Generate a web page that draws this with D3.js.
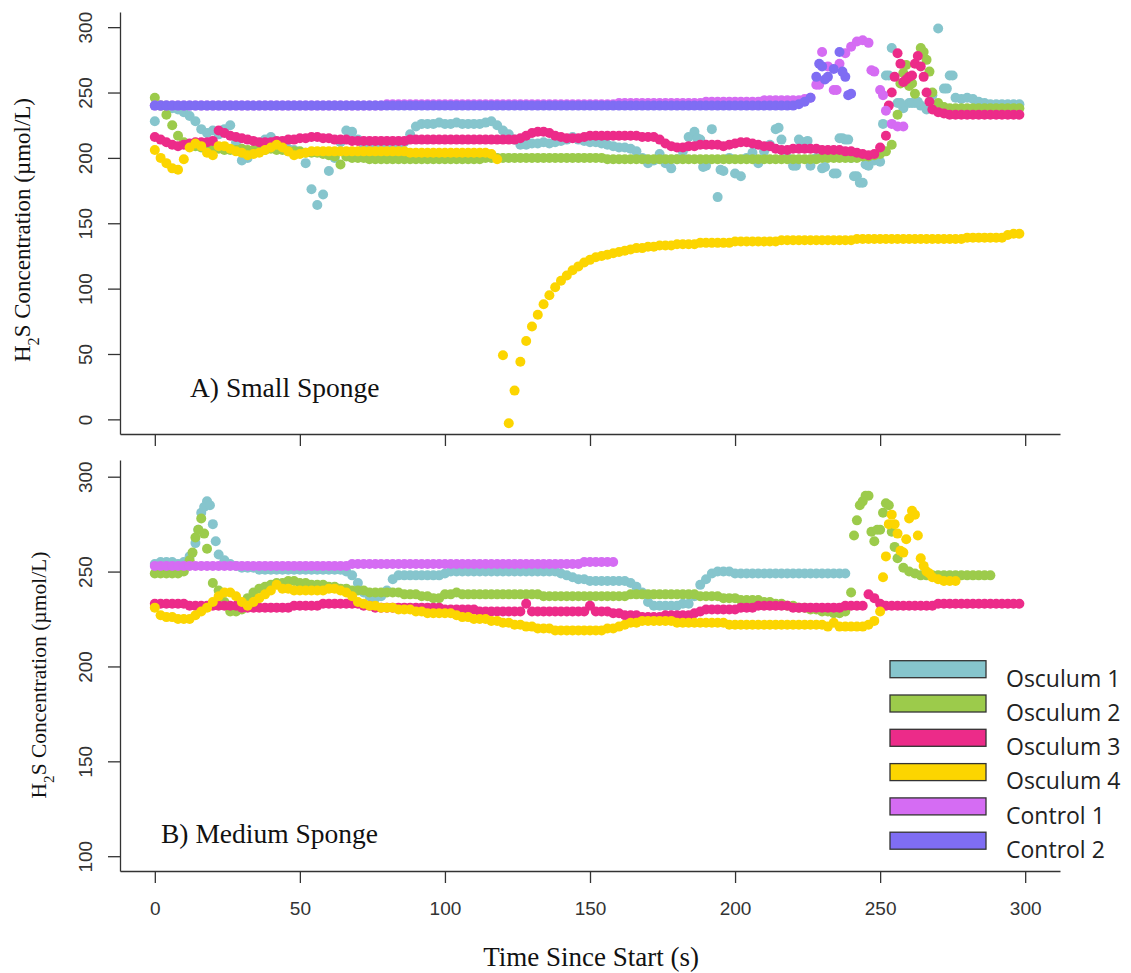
<!DOCTYPE html>
<html>
<head>
<meta charset="utf-8">
<script src="https://cdn.jsdelivr.net/npm/d3@7"></script>
<style>
  body { margin: 0; background: #fff; }
  svg { display: block; }
  .tick text { font-family: "Liberation Sans", Arial, sans-serif; font-size: 19px; fill: #333; }
  .serif { font-family: "Liberation Serif", "Times New Roman", serif; fill: #111; }
  .legend text { font-family: "Open Sans", sans-serif; font-size: 23px; fill: #222; }
</style>
</head>
<body>
<svg id="chart" width="1131" height="973"></svg>
<script>
// one reading every 2 s, starting at t = 0
const timeStep = 2

const seriesNames = ["Osculum 1", "Osculum 2", "Osculum 3", "Osculum 4", "Control 1", "Control 2"]
const seriesColors = ["#86C5CD", "#9CCB4B", "#EC2B89", "#FCD500", "#D56CF3", "#7F6DF3"]

const timeTicks = [0, 50, 100, 150, 200, 250, 300]
const smallTicks = [0, 50, 100, 150, 200, 250, 300]
const mediumTicks = [100, 150, 200, 250, 300]

// ---- A) Small Sponge ----
const smallOsc1 = [
  228, 240, 240, 238, 237, 235, 232, 228, 222, 219,
  221, 218, 222, 225, 212, 198, 200, 204, 210, 214,
  216, 212, 208, 207, 206, 204, 196, 176, 164, 172,
  190, 200, 212, 221, 220, 214, 210, 210, 209, 208,
  208, 209, 210, 212, 218, 224, 226, 226, 226, 227,
  226, 226, 227, 226, 226, 226, 226, 227, 228, 225,
  221, 218, 214, 210, 210, 211, 211, 212, 211, 212,
  213, 214, 216, 214, 213, 212, 212, 211, 210, 209,
  208, 208, 207, 205, 200, 196, 198, 203, 196, 192,
  199, 205, 216, 220, 214, 194, 222, 170, 190, 200,
  188, 186, 200, 204, 196, 205, 210, 222, 214, 200,
  194, 214, 212, 194, 200, 192, 202, 188, 215, 214,
  200, 186, 181, 194, 198, 197, 263, 284, 242, 238,
  242, 242, 240, 237, 248, 299, 253, 263, 246, 245,
  246, 245, 243, 242, 241, 241, 241, 241, 241, 241
]
const smallOsc2 = [
  246, 240, 233, 225, 217, 212, 210, 209, 208, 208,
  207, 207, 206, 206, 206, 207, 206, 206, 206, 206,
  207, 206, 206, 205, 205, 205, 204, 204, 204, 203,
  202, 201, 195, 201, 200, 200, 200, 199, 199, 199,
  199, 199, 199, 199, 199, 199, 199, 199, 199, 199,
  199, 199, 199, 199, 199, 199, 199, 200, 200, 200,
  200, 200, 200, 200, 200, 200, 200, 200, 200, 200,
  200, 200, 200, 200, 200, 200, 200, 200, 199, 199,
  199, 199, 199, 199, 199, 199, 199, 199, 199, 199,
  199, 199, 199, 199, 199, 199, 199, 199, 199, 199,
  199, 199, 199, 199, 199, 199, 199, 199, 199, 199,
  199, 199, 199, 199, 199, 200, 200, 200, 200, 200,
  200, 200, 201, 201, 202, 203, 205, 210, 233, 265,
  255, 249, 284, 275, 250, 242, 239, 238, 238, 238,
  238, 238, 238, 238, 238, 238, 238, 238, 238, 238
]
const smallOsc3 = [
  216, 214, 212, 210, 209, 210, 211, 212, 212, 212,
  213, 221, 219, 217, 216, 215, 214, 213, 212, 212,
  212, 213, 213, 214, 214, 215, 215, 216, 216, 215,
  215, 214, 214, 214, 213, 213, 213, 213, 213, 213,
  213, 213, 213, 213, 214, 214, 214, 214, 214, 214,
  214, 214, 214, 214, 214, 214, 214, 214, 214, 214,
  214, 214, 214, 215, 217, 219, 220, 220, 219, 217,
  216, 215, 215, 215, 216, 217, 217, 217, 217, 217,
  217, 217, 217, 217, 216, 216, 216, 214, 211, 209,
  208, 208, 209, 209, 210, 210, 210, 210, 209, 210,
  211, 212, 212, 211, 210, 209, 209, 207, 206, 206,
  207, 207, 207, 207, 207, 206, 206, 206, 206, 205,
  205, 204, 203, 202, 203, 208, 217, 250, 280, 258,
  262, 272, 270, 250, 237, 235, 234, 233, 233, 233,
  233, 233, 233, 233, 233, 233, 233, 233, 233, 233
]
const smallOsc4 = [
  206, 200, 196, 192, 191, 199, 208, 211, 209, 204,
  202, 209, 209, 207, 205, 204, 202, 203, 204, 206,
  208, 210, 208, 205, 202, 203, 204, 205, 205, 205,
  205, 205, 205, 205, 205, 205, 205, 205, 205, 205,
  205, 205, 205, 205, 204, 204, 204, 204, 204, 204,
  204, 204, 204, 204, 204, 204, 204, 204, 203, 199,
  49, -3, 22, 44, 60, 71, 80, 88, 95, 101,
  106, 110, 114, 117, 120, 122, 124, 125, 126, 127,
  128, 129, 130, 131, 131, 132, 132, 133, 133, 133,
  134, 134, 134, 134, 135, 135, 135, 135, 135, 135,
  136, 136, 136, 136, 136, 136, 136, 136, 137, 137,
  137, 137, 137, 137, 137, 137, 137, 137, 137, 137,
  137, 138, 138, 138, 138, 138, 138, 138, 138, 138,
  138, 138, 138, 138, 138, 138, 138, 138, 138, 138,
  139, 139, 139, 139, 139, 139, 139, 141, 142, 142
]
const smallCtl1 = [
  240, 240, 240, 240, 240, 240, 240, 240, 240, 240,
  240, 240, 240, 240, 240, 240, 240, 240, 240, 240,
  240, 240, 240, 240, 240, 240, 240, 240, 240, 240,
  240, 240, 240, 240, 240, 240, 240, 240, 240, 240,
  241, 241, 241, 241, 241, 241, 241, 241, 241, 241,
  241, 241, 241, 241, 241, 241, 241, 241, 241, 241,
  241, 241, 241, 241, 241, 241, 241, 241, 241, 241,
  241, 241, 241, 241, 241, 241, 241, 241, 241, 241,
  242, 242, 242, 242, 242, 242, 242, 242, 242, 242,
  242, 242, 242, 242, 242, 243, 243, 243, 243, 243,
  243, 243, 243, 243, 243, 244, 244, 244, 244, 244,
  244, 244, 245, 246, 256, 281, 270, 252, 272, 280,
  285, 289, 290, 288, 266, 252, 236, 226, 224, 224
]
const smallCtl2 = [
  240, 240, 240, 240, 240, 240, 240, 240, 240, 240,
  240, 240, 240, 240, 240, 240, 240, 240, 240, 240,
  240, 240, 240, 240, 240, 240, 240, 240, 240, 240,
  240, 240, 240, 240, 240, 240, 240, 240, 240, 240,
  240, 240, 240, 240, 240, 240, 240, 240, 240, 240,
  240, 240, 240, 240, 240, 240, 240, 240, 240, 240,
  240, 240, 240, 240, 240, 240, 240, 240, 240, 240,
  240, 240, 240, 240, 240, 240, 240, 240, 240, 240,
  240, 240, 240, 240, 240, 240, 240, 240, 240, 240,
  240, 240, 240, 240, 240, 240, 240, 240, 240, 240,
  240, 240, 240, 240, 240, 240, 240, 240, 240, 240,
  240, 241, 243, 246, 262, 270, 262, 268, 281, 262,
  249
]
// extra scattered readings [series, time, value]
const smallExtra = [
  ["Osculum 1", 187, 215], ["Osculum 1", 189, 193], ["Osculum 1", 195, 191], ["Osculum 1", 215, 223],
  ["Osculum 1", 221, 194], ["Osculum 1", 225, 213], ["Osculum 1", 231, 193], ["Osculum 1", 235, 188],
  ["Osculum 1", 237, 215], ["Osculum 1", 239, 214], ["Osculum 1", 241, 186], ["Osculum 1", 243, 181],
  ["Osculum 1", 245, 195], ["Osculum 1", 251, 226], ["Osculum 1", 253, 263], ["Osculum 1", 257, 242],
  ["Osculum 1", 261, 242], ["Osculum 1", 263, 243], ["Osculum 1", 273, 253], ["Osculum 1", 275, 263],
  ["Osculum 2", 257, 257], ["Osculum 2", 259, 271], ["Osculum 2", 261, 257], ["Osculum 2", 265, 281],
  ["Osculum 2", 267, 266],
  ["Osculum 3", 253, 240], ["Osculum 3", 255, 262], ["Osculum 3", 257, 272], ["Osculum 3", 259, 260],
  ["Osculum 3", 261, 263], ["Osculum 3", 263, 278], ["Osculum 3", 265, 262], ["Osculum 3", 267, 243],
  ["Control 1", 229, 256], ["Control 1", 235, 252], ["Control 1", 247, 267], ["Control 1", 251, 248],
  ["Control 2", 229, 272], ["Control 2", 231, 260], ["Control 2", 237, 266], ["Control 2", 239, 248]
]

// ---- B) Medium Sponge ----
const medOsc1 = [
  254, 255, 255, 255, 254, 255, 258, 265, 281, 287,
  275, 259, 256, 254, 253, 252, 252, 252, 251, 251,
  251, 251, 251, 251, 251, 251, 251, 251, 251, 251,
  251, 251, 251, 250, 248, 244, 239, 237, 236, 237,
  240, 246, 248, 248, 248, 248, 248, 248, 248, 248,
  249, 250, 250, 250, 250, 250, 250, 250, 250, 250,
  250, 250, 250, 250, 250, 250, 250, 250, 250, 250,
  249, 248, 247, 246, 246, 245, 245, 245, 245, 245,
  245, 245, 244, 242, 239, 234, 232, 232, 232, 232,
  232, 233, 233, 237, 243, 246, 249, 250, 250, 250,
  249, 249, 249, 249, 249, 249, 249, 249, 249, 249,
  249, 249, 249, 249, 249, 249, 249, 249, 249, 249
]
const medOsc2 = [
  249, 249, 249, 249, 249, 250, 256, 268, 278, 262,
  244, 240, 234, 229, 229, 230, 236, 239, 241, 242,
  243, 244, 244, 245, 245, 244, 244, 243, 243, 243,
  242, 242, 241, 241, 240, 240, 240, 239, 239, 239,
  239, 239, 239, 238, 238, 238, 237, 237, 236, 236,
  238, 238, 239, 238, 238, 238, 238, 238, 238, 238,
  238, 238, 238, 238, 238, 238, 238, 237, 237, 237,
  237, 237, 237, 237, 237, 237, 237, 237, 237, 237,
  237, 237, 238, 238, 238, 238, 238, 238, 238, 238,
  238, 238, 238, 238, 237, 237, 237, 237, 236, 236,
  236, 235, 235, 235, 235, 234, 234, 233, 233, 232,
  232, 231, 231, 230, 230, 229, 229, 228, 228, 229,
  239, 277, 287, 290, 266, 272, 286, 271, 257, 252,
  250, 249, 248, 248, 248, 248, 248, 248, 248, 248,
  248, 248, 248, 248, 248
]
const medOsc3 = [
  233, 233, 233, 233, 233, 233, 232, 232, 232, 232,
  232, 232, 232, 232, 232, 231, 231, 231, 231, 231,
  231, 231, 231, 231, 232, 232, 232, 232, 232, 233,
  233, 233, 233, 233, 233, 233, 232, 232, 231, 231,
  231, 231, 231, 231, 231, 231, 231, 231, 231, 231,
  230, 230, 230, 230, 230, 230, 229, 229, 229, 229,
  229, 229, 229, 229, 233, 229, 229, 229, 229, 229,
  229, 229, 229, 229, 229, 232, 229, 229, 229, 228,
  228, 227, 227, 227, 226, 226, 226, 226, 227, 227,
  227, 227, 227, 228, 229, 230, 230, 230, 230, 230,
  230, 231, 231, 231, 232, 232, 232, 232, 232, 232,
  231, 231, 231, 231, 231, 231, 231, 231, 231, 232,
  232, 232, 232, 238, 236, 233, 232, 232, 232, 232,
  232, 232, 232, 232, 232, 233, 233, 233, 233, 233,
  233, 233, 233, 233, 233, 233, 233, 233, 233, 233
]
const medOsc4 = [
  231, 227, 226, 226, 225, 225, 225, 227, 229, 231,
  234, 237, 239, 239, 237, 234, 232, 234, 236, 238,
  240, 243, 241, 241, 240, 240, 240, 240, 240, 240,
  241, 241, 240, 239, 237, 234, 233, 232, 232, 231,
  231, 231, 230, 230, 230, 229, 229, 228, 228, 228,
  228, 228, 227, 226, 226, 225, 225, 225, 224, 224,
  223, 223, 222, 222, 221, 221, 220, 220, 220, 219,
  219, 219, 219, 219, 219, 219, 219, 219, 220, 220,
  221, 222, 223, 223, 224, 224, 224, 224, 224, 224,
  223, 223, 223, 223, 223, 223, 223, 223, 223, 222,
  222, 222, 222, 222, 222, 222, 222, 222, 222, 222,
  222, 222, 222, 222, 222, 222, 221, 223, 221, 221,
  221, 221, 221, 222, 224, 229, 258, 280, 270, 260,
  278, 280, 257, 250, 247, 246, 245, 245, 245
]
const medCtl1 = [
  253, 253, 253, 253, 253, 253, 253, 253, 253, 253,
  253, 253, 253, 253, 253, 253, 253, 253, 253, 253,
  253, 253, 253, 253, 253, 253, 253, 253, 253, 253,
  253, 253, 253, 253, 254, 254, 254, 254, 254, 254,
  254, 254, 254, 254, 254, 254, 254, 254, 254, 254,
  254, 254, 254, 254, 254, 254, 254, 254, 254, 254,
  254, 254, 254, 254, 254, 254, 254, 254, 254, 254,
  254, 254, 254, 254, 255, 255, 255, 255, 255, 255
]
const medExtra = [
  ["Osculum 1", 15, 272], ["Osculum 1", 17, 284], ["Osculum 1", 19, 285], ["Osculum 1", 21, 266],
  ["Osculum 2", 13, 260], ["Osculum 2", 15, 272], ["Osculum 2", 17, 270], ["Osculum 2", 241, 269],
  ["Osculum 2", 243, 285], ["Osculum 2", 245, 290], ["Osculum 2", 247, 271], ["Osculum 2", 249, 272],
  ["Osculum 2", 251, 281], ["Osculum 2", 253, 285], ["Osculum 2", 255, 263],
  ["Osculum 4", 251, 247], ["Osculum 4", 253, 275], ["Osculum 4", 255, 275], ["Osculum 4", 257, 261],
  ["Osculum 4", 259, 267], ["Osculum 4", 261, 282], ["Osculum 4", 263, 269], ["Osculum 4", 265, 253],
  ["Osculum 4", 267, 249]
]

const svg = d3.select("#chart")

// shared time axis
const x = d3.scaleLinear().domain([-12, 312]).range([120, 1060])

const panels = [
  {
    series: [smallOsc1, smallOsc2, smallOsc3, smallOsc4, smallCtl1, smallCtl2],
    extra: smallExtra,
    y: d3.scaleLinear().domain([-11.2, 311.6]).range([434, 12]),
    ticks: smallTicks,
    label: "A) Small Sponge", labelX: 190, labelY: 397,
    titleX: 30, titleY: 230, titleSize: 23,
    timeLabels: false
  },
  {
    series: [medOsc1, medOsc2, medOsc3, medOsc4, medCtl1],
    extra: medExtra,
    y: d3.scaleLinear().domain([92.2, 308.8]).range([871, 460]),
    ticks: mediumTicks,
    label: "B) Medium Sponge", labelX: 161, labelY: 843,
    titleX: 46, titleY: 675, titleSize: 21.5,
    timeLabels: true
  }
]

// turn the arrays into points, in series order
function pointsOf(seriesList, extra) {
  let pts = []
  seriesList.forEach((vals, i) => {
    vals.forEach((v, k) => {
      if (v !== null) pts.push({s: i, t: k * timeStep, v: v})
    })
    extra.filter(e => e[0] === seriesNames[i])
         .forEach(e => pts.push({s: i, t: e[1], v: e[2]}))
  })
  return pts
}

panels.forEach(p => {
  const g = svg.append("g")

  g.append("g")
   .selectAll("circle")
   .data(pointsOf(p.series, p.extra))
   .enter()
   .append("circle")
   .attr("cx", d => x(d.t))
   .attr("cy", d => p.y(d.v))
   .attr("r", 5)
   .attr("fill", d => seriesColors[d.s])

  // y axis, R style labels parallel to the axis
  const yAxis = g.append("g")
     .attr("color", "#333")
     .attr("transform", `translate(${x.range()[0]},0)`)
     .call(d3.axisLeft(p.y).tickValues(p.ticks).tickSize(12).tickSizeOuter(0))
  yAxis.selectAll(".tick text")
     .attr("transform", "rotate(-90)")
     .attr("x", 0)
     .attr("y", -28)
     .attr("dy", 0)
     .attr("text-anchor", "middle")

  // time axis
  const xAxis = d3.axisBottom(x).tickValues(timeTicks).tickSize(12).tickSizeOuter(0).tickPadding(19)
  if (!p.timeLabels) xAxis.tickFormat("")
  g.append("g")
   .attr("color", "#333")
   .attr("transform", `translate(0,${p.y.range()[0]})`)
   .call(xAxis)

  g.selectAll(".domain, .tick line").attr("stroke-width", 1.3)

  // panel label
  g.append("text")
   .attr("class", "serif")
   .attr("x", p.labelX)
   .attr("y", p.labelY)
   .style("font-size", "27.5px")
   .text(p.label)

  // y title with subscript
  const title = g.append("text")
   .attr("class", "serif")
   .attr("text-anchor", "middle")
   .attr("transform", `translate(${p.titleX},${p.titleY}) rotate(-90)`)
   .style("font-size", p.titleSize + "px")
  title.append("tspan").text("H")
  title.append("tspan").attr("baseline-shift", "sub").style("font-size", "70%").text("2")
  title.append("tspan").text("S Concentration (µmol/L)")
})

// x title
svg.append("text")
   .attr("class", "serif")
   .attr("text-anchor", "middle")
   .attr("x", 591)
   .attr("y", 966)
   .style("font-size", "27px")
   .text("Time Since Start (s)")

// legend
const legend = svg.append("g").attr("class", "legend")
legend.selectAll("rect")
   .data(seriesNames)
   .enter()
   .append("rect")
   .attr("x", 890)
   .attr("y", (d, i) => 660.7 + i * 34.3)
   .attr("width", 96)
   .attr("height", 17)
   .attr("fill", (d, i) => seriesColors[i])
   .attr("stroke", "#333")
   .attr("stroke-width", 1.3)
legend.selectAll("text")
   .data(seriesNames)
   .enter()
   .append("text")
   .attr("x", 1006)
   .attr("y", (d, i) => 686.5 + i * 34.3)
   .text(d => d)
</script>
</body>
</html>
